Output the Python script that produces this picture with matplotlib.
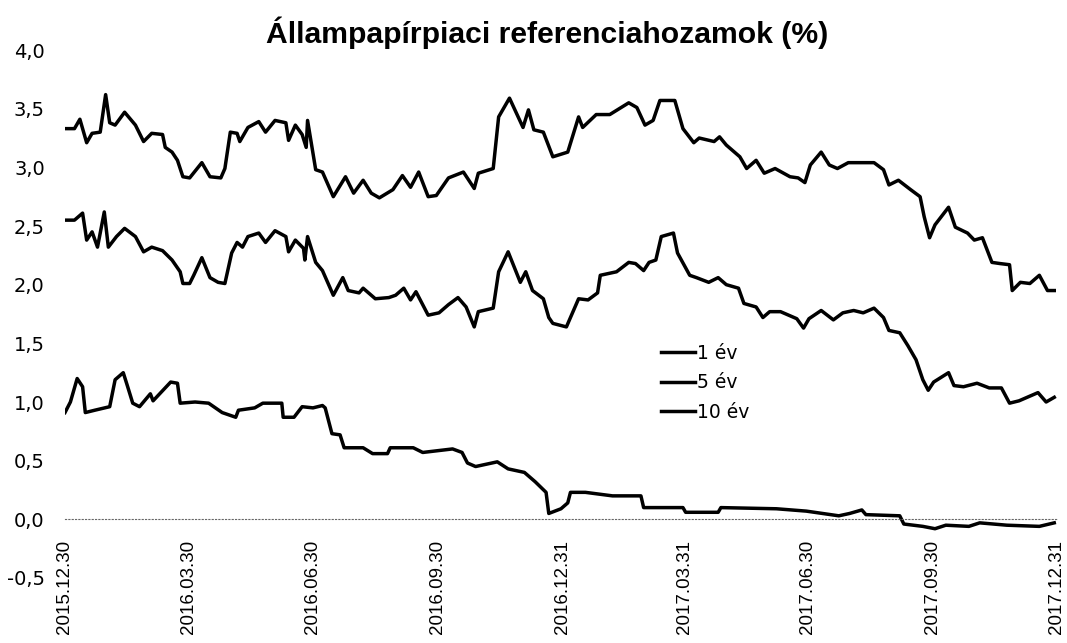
import matplotlib
matplotlib.use("Agg")
import matplotlib.pyplot as plt
import pandas as pd

plt.rcParams['font.family'] = ['DejaVu Sans']
arial = ['Liberation Sans', 'DejaVu Sans']

title = "Állampapírpiaci referenciahozamok (%)"
series_names = ["1 év", "5 év", "10 év"]

# 1 éves hozam
d1 = ["2015-12-30", "2016-01-03", "2016-01-08", "2016-01-12", "2016-01-14", "2016-01-21", "2016-02-01",
      "2016-02-05", "2016-02-11", "2016-02-14", "2016-02-18", "2016-02-23", "2016-03-02", "2016-03-04",
      "2016-03-17", "2016-03-22", "2016-03-24", "2016-04-04", "2016-04-14", "2016-04-24", "2016-05-04",
      "2016-05-06", "2016-05-18", "2016-05-24", "2016-06-07", "2016-06-08", "2016-06-16", "2016-06-22",
      "2016-06-30", "2016-07-07", "2016-07-09", "2016-07-14", "2016-07-20", "2016-07-23", "2016-08-06",
      "2016-08-13", "2016-08-24", "2016-08-26", "2016-09-12", "2016-09-19", "2016-10-11", "2016-10-18",
      "2016-10-22", "2016-10-28", "2016-11-13", "2016-11-21", "2016-12-03", "2016-12-11", "2016-12-19",
      "2016-12-21", "2016-12-30", "2017-01-04", "2017-01-06", "2017-01-17", "2017-02-06", "2017-02-27",
      "2017-03-01", "2017-03-30", "2017-04-01", "2017-04-25", "2017-04-27", "2017-06-07", "2017-06-29",
      "2017-07-23", "2017-07-31", "2017-08-09", "2017-08-12", "2017-09-06", "2017-09-09", "2017-09-23",
      "2017-10-02", "2017-10-10", "2017-10-27", "2017-11-04", "2017-11-24", "2017-12-18", "2017-12-29"]
v1 = [0.91, 1.00, 1.20, 1.13, 0.91, 0.93, 0.96, 1.19, 1.25, 1.14, 0.99, 0.96, 1.07, 1.01, 1.17, 1.16, 0.99,
      1.00, 0.99, 0.91, 0.87, 0.93, 0.95, 0.99, 0.99, 0.87, 0.87, 0.96, 0.95, 0.97, 0.95, 0.73, 0.72, 0.61,
      0.61, 0.56, 0.56, 0.61, 0.61, 0.57, 0.60, 0.57, 0.48, 0.45, 0.49, 0.43, 0.40, 0.32, 0.23, 0.05, 0.09,
      0.14, 0.23, 0.23, 0.20, 0.20, 0.10, 0.10, 0.06, 0.06, 0.10, 0.09, 0.07, 0.03, 0.05, 0.08, 0.04, 0.03,
      -0.04, -0.06, -0.08, -0.05, -0.06, -0.03, -0.05, -0.06, -0.03]

# 5 éves hozam
d5 = ["2015-12-30", "2016-01-06", "2016-01-12", "2016-01-15", "2016-01-19", "2016-01-23", "2016-01-28",
      "2016-01-31", "2016-02-06", "2016-02-12", "2016-02-20", "2016-02-26", "2016-03-03", "2016-03-11",
      "2016-03-18", "2016-03-24", "2016-03-26", "2016-03-31", "2016-04-03", "2016-04-09", "2016-04-15",
      "2016-04-21", "2016-04-26", "2016-05-01", "2016-05-05", "2016-05-09", "2016-05-13", "2016-05-21",
      "2016-05-26", "2016-06-02", "2016-06-10", "2016-06-12", "2016-06-17", "2016-06-23", "2016-06-24",
      "2016-06-26", "2016-07-02", "2016-07-07", "2016-07-15", "2016-07-22", "2016-07-26", "2016-08-03",
      "2016-08-06", "2016-08-15", "2016-08-25", "2016-08-30", "2016-09-05", "2016-09-10", "2016-09-14",
      "2016-09-23", "2016-10-01", "2016-10-08", "2016-10-15", "2016-10-21", "2016-10-27", "2016-10-30",
      "2016-11-10", "2016-11-14", "2016-11-21", "2016-11-30", "2016-12-04", "2016-12-09", "2016-12-17",
      "2016-12-21", "2016-12-24", "2017-01-03", "2017-01-12", "2017-01-19", "2017-01-26", "2017-01-28",
      "2017-02-09", "2017-02-18", "2017-02-23", "2017-03-01", "2017-03-05", "2017-03-10", "2017-03-14",
      "2017-03-23", "2017-03-26", "2017-04-04", "2017-04-09", "2017-04-18", "2017-04-25", "2017-05-01",
      "2017-05-10", "2017-05-14", "2017-05-23", "2017-05-28", "2017-06-02", "2017-06-10", "2017-06-22",
      "2017-06-27", "2017-07-01", "2017-07-10", "2017-07-19", "2017-07-26", "2017-08-03", "2017-08-10",
      "2017-08-18", "2017-08-25", "2017-08-29", "2017-09-06", "2017-09-12", "2017-09-18", "2017-09-23",
      "2017-09-27", "2017-10-01", "2017-10-12", "2017-10-16", "2017-10-23", "2017-11-02", "2017-11-11",
      "2017-11-20", "2017-11-26", "2017-12-03", "2017-12-17", "2017-12-23", "2017-12-29"]
v5 = [2.55, 2.55, 2.61, 2.38, 2.45, 2.32, 2.62, 2.32, 2.41, 2.48, 2.41, 2.28, 2.32, 2.29, 2.21, 2.11, 2.01,
      2.01, 2.08, 2.23, 2.06, 2.02, 2.01, 2.27, 2.36, 2.32, 2.41, 2.44, 2.36, 2.46, 2.41, 2.28, 2.38, 2.31,
      2.21, 2.41, 2.19, 2.12, 1.91, 2.06, 1.95, 1.93, 1.97, 1.88, 1.89, 1.91, 1.97, 1.87, 1.94, 1.74, 1.76,
      1.83, 1.89, 1.81, 1.64, 1.77, 1.80, 2.11, 2.28, 2.02, 2.11, 1.95, 1.88, 1.72, 1.67, 1.64, 1.88, 1.87,
      1.93, 2.08, 2.11, 2.19, 2.18, 2.12, 2.19, 2.21, 2.41, 2.44, 2.27, 2.08, 2.06, 2.02, 2.06, 2.00, 1.97,
      1.84, 1.81, 1.72, 1.77, 1.77, 1.71, 1.63, 1.71, 1.78, 1.70, 1.76, 1.78, 1.76, 1.80, 1.72, 1.61, 1.59,
      1.48, 1.36, 1.19, 1.10, 1.17, 1.25, 1.14, 1.13, 1.16, 1.12, 1.12, 0.99, 1.01, 1.08, 1.00, 1.04]

# 10 éves hozam
d10 = ["2015-12-30", "2016-01-06", "2016-01-10", "2016-01-15", "2016-01-19", "2016-01-25", "2016-01-29",
       "2016-02-01", "2016-02-05", "2016-02-12", "2016-02-20", "2016-02-26", "2016-03-03", "2016-03-11",
       "2016-03-13", "2016-03-18", "2016-03-22", "2016-03-26", "2016-03-31", "2016-04-09", "2016-04-15",
       "2016-04-23", "2016-04-26", "2016-04-30", "2016-05-05", "2016-05-07", "2016-05-13", "2016-05-21",
       "2016-05-26", "2016-06-02", "2016-06-10", "2016-06-12", "2016-06-17", "2016-06-22", "2016-06-25",
       "2016-06-26", "2016-07-02", "2016-07-07", "2016-07-15", "2016-07-24", "2016-07-30", "2016-08-06",
       "2016-08-12", "2016-08-18", "2016-08-28", "2016-09-04", "2016-09-10", "2016-09-16", "2016-09-23",
       "2016-09-29", "2016-10-08", "2016-10-19", "2016-10-27", "2016-10-30", "2016-11-10", "2016-11-14",
       "2016-11-22", "2016-12-02", "2016-12-06", "2016-12-10", "2016-12-17", "2016-12-24", "2017-01-04",
       "2017-01-12", "2017-01-15", "2017-01-25", "2017-02-04", "2017-02-18", "2017-02-24", "2017-03-02",
       "2017-03-08", "2017-03-13", "2017-03-24", "2017-03-30", "2017-04-07", "2017-04-11", "2017-04-22",
       "2017-04-26", "2017-05-01", "2017-05-11", "2017-05-16", "2017-05-23", "2017-05-29", "2017-06-06",
       "2017-06-17", "2017-06-23", "2017-06-28", "2017-07-02", "2017-07-10", "2017-07-16", "2017-07-22",
       "2017-07-30", "2017-08-08", "2017-08-18", "2017-08-25", "2017-08-29", "2017-09-05", "2017-09-14",
       "2017-09-21", "2017-09-24", "2017-09-28", "2017-10-02", "2017-10-12", "2017-10-17", "2017-10-26",
       "2017-10-31", "2017-11-06", "2017-11-13", "2017-11-19", "2017-11-26", "2017-11-28", "2017-12-04",
       "2017-12-11", "2017-12-18", "2017-12-24", "2017-12-29"]
v10 = [3.33, 3.33, 3.41, 3.21, 3.29, 3.30, 3.62, 3.38, 3.36, 3.47, 3.36, 3.22, 3.29, 3.28, 3.17, 3.13, 3.06,
       2.92, 2.91, 3.04, 2.92, 2.91, 2.99, 3.30, 3.29, 3.22, 3.34, 3.39, 3.30, 3.40, 3.38, 3.23, 3.36, 3.28,
       3.17, 3.40, 2.98, 2.96, 2.75, 2.92, 2.78, 2.89, 2.78, 2.74, 2.81, 2.93, 2.83, 2.96, 2.75, 2.76, 2.91,
       2.96, 2.82, 2.95, 2.99, 3.43, 3.59, 3.34, 3.49, 3.32, 3.30, 3.09, 3.13, 3.43, 3.34, 3.45, 3.45, 3.55,
       3.51, 3.36, 3.40, 3.57, 3.57, 3.33, 3.21, 3.25, 3.22, 3.26, 3.19, 3.09, 2.99, 3.06, 2.95, 2.99, 2.92,
       2.91, 2.87, 3.02, 3.13, 3.02, 2.99, 3.04, 3.04, 3.04, 2.98, 2.85, 2.89, 2.81, 2.75, 2.58, 2.40, 2.51,
       2.66, 2.49, 2.44, 2.38, 2.40, 2.19, 2.18, 2.17, 1.95, 2.02, 2.01, 2.08, 1.95, 1.95]

tick_dates = ["2015-12-30", "2016-03-30", "2016-06-30", "2016-09-30", "2016-12-31",
              "2017-03-31", "2017-06-30", "2017-09-30", "2017-12-31"]
y_ticks = [-0.5, 0.0, 0.5, 1.0, 1.5, 2.0, 2.5, 3.0, 3.5, 4.0]

fig = plt.figure(figsize=(10.67, 6.43), dpi=100)
ax = fig.add_axes([0.0609, 0.1011, 0.9297, 0.8211])

for d, v, name in [(d1, v1, series_names[0]), (d5, v5, series_names[1]), (d10, v10, series_names[2])]:
    ax.plot(pd.to_datetime(d), v, color="black", lw=2.5, label=name, solid_joinstyle="round")

ax.set_xlim(pd.Timestamp(tick_dates[0]), pd.Timestamp(tick_dates[-1]))
ax.set_ylim(-0.5, 4.0)

# spines first: moving a spine resets the ticks
for s in ["top", "right", "left"]:
    ax.spines[s].set_visible(False)
ax.spines["bottom"].set_position(("data", 0))
ax.spines["bottom"].set_linestyle((0, (1, 2)))
ax.spines["bottom"].set_color("#666666")
ax.spines["bottom"].set_linewidth(0.8)

ax.set_xticks(pd.to_datetime(tick_dates))
ax.set_xticklabels([t.replace("-", ".") for t in tick_dates])
ax.set_yticks(y_ticks)
ax.set_yticklabels([f"{t:.1f}".replace(".", ",") for t in y_ticks])
ax.tick_params(axis="x", length=0, pad=15, labelrotation=90)
ax.tick_params(axis="y", length=0, pad=14.5, labelsize=14)
for lab in ax.get_xticklabels():
    lab.set_fontfamily(arial)
    lab.set_fontsize(13.5)

fig.text(547 / 1067, 1 - 33 / 643, title, ha="center", va="center", fontsize=21.7,
         fontweight="bold", family=arial)

ax.legend(loc="upper left", bbox_to_anchor=(661 / 1067, 1 - 344 / 643), bbox_transform=fig.transFigure,
          frameon=False, fontsize=13.5, handlelength=1.8, handletextpad=0.1, labelspacing=0.56,
          borderpad=0, borderaxespad=0)

fig.savefig("out.png", dpi=100)
